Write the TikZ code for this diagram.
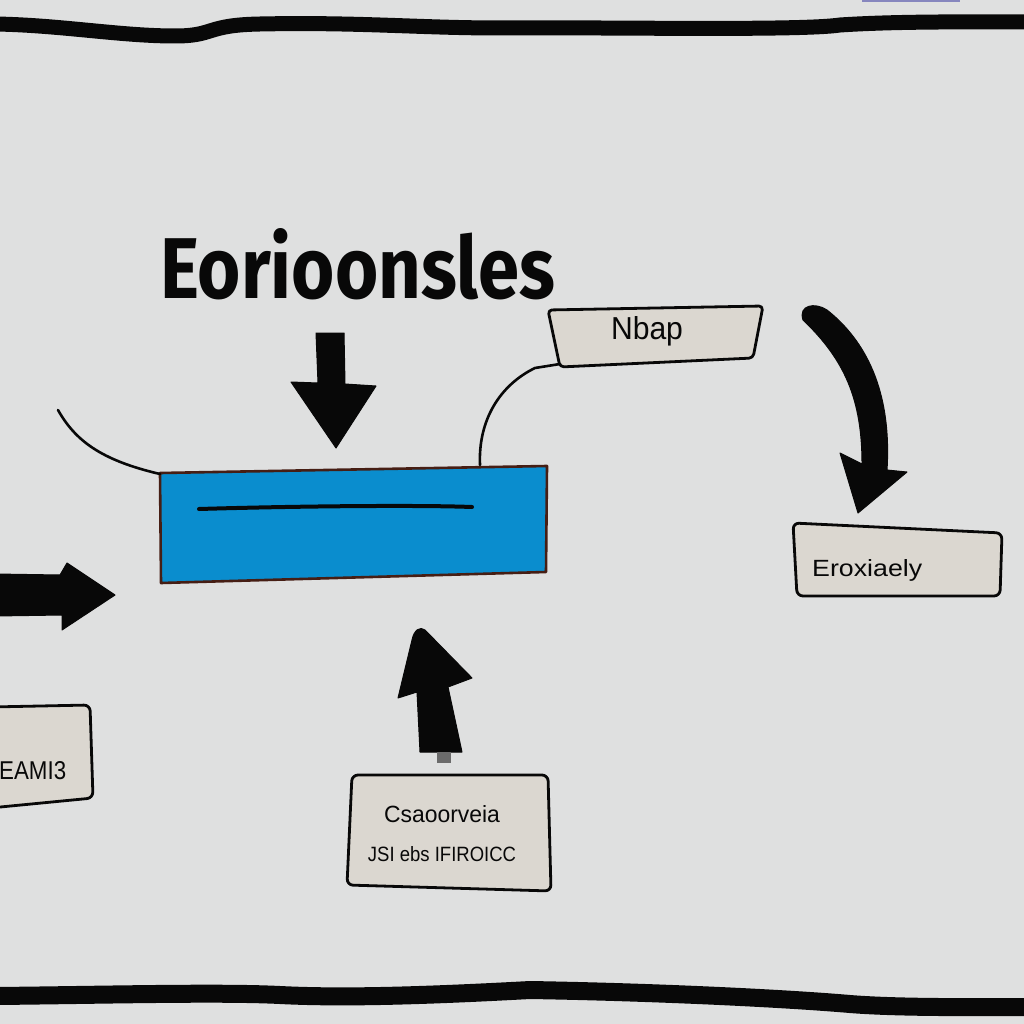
\documentclass[tikz,border=0pt]{standalone}
\usepackage{fontspec}
\usepackage{graphicx}
\setmainfont{Liberation Sans}
\newfontfamily\titlefont{Fira Sans}
\definecolor{paper}{RGB}{223,224,224}
\definecolor{boxfill}{RGB}{219,215,208}
\definecolor{bluefill}{RGB}{10,141,206}
\definecolor{blueedge}{RGB}{70,30,20}
\definecolor{ink}{RGB}{8,8,8}
\tikzset{
  labelbox/.style={draw=ink, line width=2.8pt, fill=boxfill, line join=round, rounded corners=6pt},
  fatarrow/.style={fill=ink, draw=ink, line width=1pt, line join=round},
  thinlink/.style={draw=ink, line width=2.6pt, line cap=round},
  rule/.style={draw=ink, line width=15pt, line cap=butt},
  lbl/.style={inner sep=0pt, text=ink}
}
\begin{document}
\begin{tikzpicture}[x=1pt,y=-1pt]
\useasboundingbox (0,0) rectangle (1024,1024);
\fill[paper] (0,0) rectangle (1024,1024);

% top and bottom rules
\draw[rule] (-5,24) .. controls (60,25) and (120,36) .. (175,36)
  .. controls (215,36) and (205,25) .. (260,24)
  .. controls (360,22) and (420,28) .. (500,28)
  .. controls (600,27) and (800,31) .. (840,25)
  .. controls (900,21) and (980,22) .. (1030,22);
\draw[rule, line width=18pt] (-5,996) .. controls (100,995) and (220,992) .. (280,995)
  .. controls (340,998) and (420,996) .. (530,990)
  .. controls (650,992) and (780,998) .. (850,1004)
  .. controls (900,1008) and (980,1007) .. (1030,1007);
\fill[black!45!blue!40!paper] (862,0) rectangle (960,2);

% title
\node[lbl, anchor=south west] (title) at (160,300) {\resizebox{395pt}{70pt}{\titlefont\bfseries Eorioonsles}};

% blue main box
\path[fill=bluefill, draw=blueedge, line width=2.6pt, line join=round]
  (160,473) -- (547,466) -- (546,572) -- (161,583) -- cycle;
\coordinate (main) at (354,524);
\coordinate (mainTL) at (160,474);
\coordinate (mainTR) at (480,465);
\draw[ink, line width=4pt, line cap=round] (199,509) .. controls (300,506) and (420,505) .. (472,507);

% Nbap box
\path[labelbox, rounded corners=4pt] (548,310) -- (763,306) -- (753,358) -- (560,367) -- cycle;
\node[lbl] (nbap) at (647,331) {\resizebox{72pt}{23pt}{Nbap}};
\coordinate (nbapBL) at (560,364);

% Eroxiaely box
\path[labelbox] (793,523) -- (1002,533) -- (1000,596) -- (797,596) -- cycle;
\node[lbl, anchor=base west] (erox) at (812,576) {\resizebox{110pt}{17pt}{Eroxiaely}};

% EAMI3 box
\path[labelbox] (-10,707) -- (90,705) -- (93,798) -- (-10,808) -- cycle;
\node[lbl, anchor=base west] (eami) at (-1,779) {\resizebox{67pt}{18pt}{EAMI3}};

% bottom box
\path[labelbox] (352,775) -- (548,775) -- (551,891) -- (347,885) -- cycle;
\node[lbl, anchor=base] (bl1) at (442,822) {\resizebox{116pt}{17pt}{Csaoorveia}};
\node[lbl, anchor=base] (bl2) at (442,861) {\resizebox{148pt}{15pt}{JSI ebs IFIROICC}};

% down arrow above main box
\path[fatarrow] (316,333) -- (344,333) -- (345,384) -- (376,386) -- (336,448)
  -- (291,382) -- (318,383) -- cycle;

% left arrow
\path[fatarrow] (-5,574) -- (60,575) -- (67,563) -- (115,595) -- (62,630)
  -- (62,615) -- (-5,616) -- cycle;

% up arrow
\path[fatarrow] (420,752) -- (417,692) -- (398,698) -- (412,640)
  .. controls (414,630) and (420,626) .. (425,630) -- (472,678) -- (448,687)
  -- (462,752) -- cycle;
\fill[ink!60] (437,752) rectangle (451,763);

% curved arrow from Nbap to Eroxiaely
\path[fatarrow] (803,320) .. controls (798,305) and (815,302) .. (827,310)
  .. controls (865,340) and (892,390) .. (887,470)
  -- (907,472) -- (858,513) -- (840,453) -- (862,464)
  .. controls (862,400) and (845,360) .. (803,320) -- cycle;

% thin connectors
\draw[thinlink] (58,410) .. controls (75,440) and (100,460) .. (mainTL);
\draw[thinlink] (mainTR) .. controls (478,420) and (500,385) .. (535,368) -- (nbapBL);
\end{tikzpicture}
\end{document}
